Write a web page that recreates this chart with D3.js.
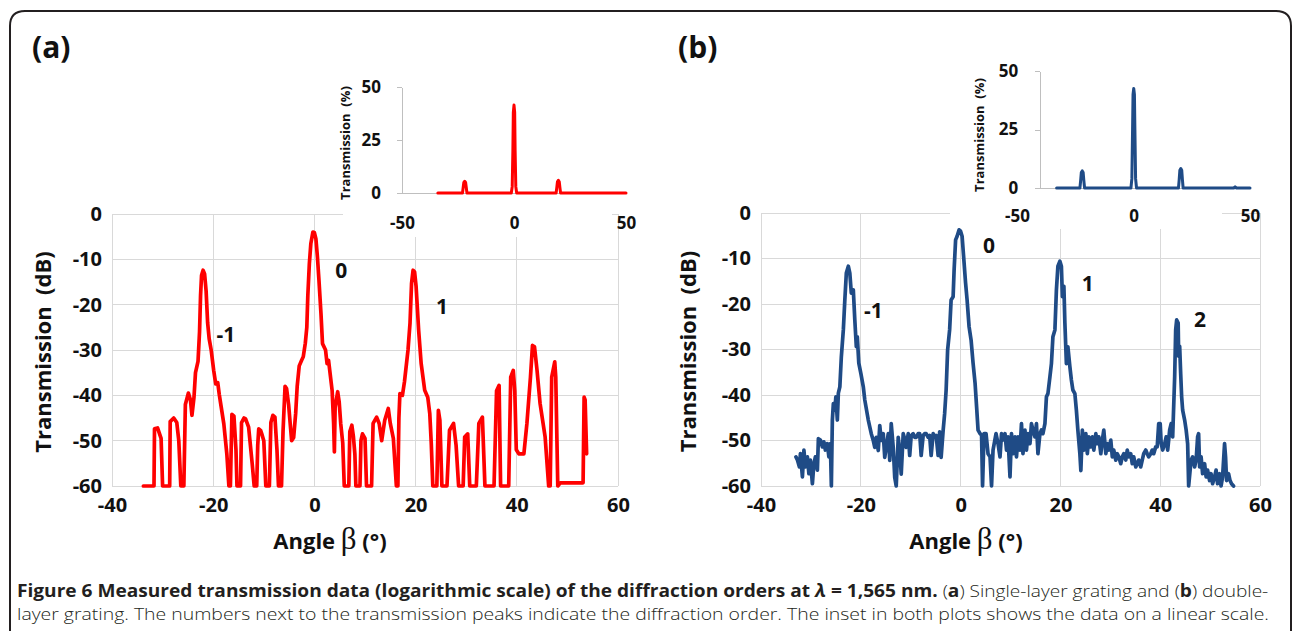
<!DOCTYPE html>
<html><head><meta charset="utf-8">
<script src="https://cdn.jsdelivr.net/npm/d3@7"></script>
<style>
html,body{margin:0;padding:0;background:#fff;}
svg{display:block;}
</style></head><body>
<svg id="fig" width="1292" height="631"></svg>
<script>
// ---------- data ----------
const angleTicks = [-40, -20, 0, 20, 40, 60];
const dbTicks = [0, -10, -20, -30, -40, -50, -60];
const insetAngleTicks = [-50, 0, 50];
const insetPctTicks = [0, 25, 50];

// (a) single-layer grating, transmission in dB vs angle
const singleLayerDb = [
[-33.8,-60],[-31.7,-60],[-31.6,-47.4],[-31.0,-47.2],[-30.6,-48.5],[-30.3,-49.5],[-30.0,-60],
[-28.6,-60],[-28.5,-45.8],[-27.8,-45],[-27.2,-46],[-26.8,-50],[-26.4,-60],
[-25.8,-60],[-25.5,-42],[-24.9,-39.5],[-24.5,-41],[-24.2,-44.4],[-23.8,-40.5],[-23.5,-35],[-23.0,-32.5],[-22.7,-26],[-22.5,-18],[-22.3,-13.5],[-22.0,-12.4],[-21.7,-13.2],[-21.4,-17],[-21.1,-24],[-20.8,-27.5],[-20.4,-30],[-19.9,-34.5],[-19.5,-37.5],[-19.1,-37.2],[-18.8,-39.8],[-18.5,-42],[-17.9,-46.3],[-17.3,-53],[-16.9,-60],
[-16.6,-60],[-16.3,-44.2],[-15.9,-44.6],[-15.5,-52],[-15.3,-60],
[-14.6,-60],[-14.4,-46],[-13.9,-45],[-13.6,-45.2],[-13.0,-47],[-12.3,-55],[-11.9,-60],
[-11.4,-60],[-11.2,-51],[-11.0,-47.4],[-10.6,-47.8],[-10.4,-48.5],[-10.0,-50],[-9.6,-60],
[-8.9,-60],[-8.6,-46],[-8.2,-44.4],[-7.8,-44.8],[-7.4,-52],[-7.1,-60],
[-6.5,-60],[-6.2,-48],[-5.8,-38],[-5.5,-38.5],[-5.1,-42],[-4.8,-46],[-4.5,-50],[-4.1,-49.3],[-3.7,-44],[-3.4,-38],[-3.0,-33.5],[-2.5,-32.2],[-2.2,-31.5],[-1.8,-28.5],[-1.5,-25],[-1.3,-18],[-1.0,-11],[-0.7,-6.5],[-0.3,-4],[0.0,-4.1],[0.3,-5.5],[0.6,-9.5],[0.9,-14.6],[1.3,-22],[1.6,-28.6],[2.2,-30],[2.5,-33],[2.8,-32.3],[3.5,-38.9],[3.8,-46.2],[3.95,-52.5],[4.1,-42.6],[4.6,-39.2],[4.9,-41.5],[5.2,-46.2],[5.6,-50.5],[5.9,-60],
[6.8,-60],[7.0,-48],[7.4,-46.6],[7.7,-49],[8.0,-53],[8.2,-60],
[9.0,-60],[9.2,-50],[9.5,-48.5],[10.0,-49.5],[10.3,-60],
[11.3,-60],[11.6,-46.2],[12.3,-44.8],[12.8,-46.2],[13.3,-50],[13.9,-45.5],[14.6,-42.9],[15.0,-46.2],[15.6,-49.5],[16.2,-60],
[16.5,-60],[16.7,-45],[16.9,-39.6],[17.4,-40],[17.8,-37],[18.5,-30],[18.9,-24],[19.2,-15.3],[19.5,-12.4],[19.8,-12.8],[20.1,-16],[20.6,-25.6],[21.1,-33],[21.8,-38.9],[22.4,-40.4],[22.8,-44],[23.1,-50.7],[23.4,-60],
[24.2,-60],[24.5,-43.3],[24.8,-45.5],[25.2,-60],
[26.2,-60],[26.7,-47.7],[27.5,-46.2],[28.0,-51],[28.5,-60],
[29.4,-60],[29.7,-49.2],[30.3,-48.5],[30.7,-60],
[32.0,-60],[32.5,-46.2],[33.2,-44.8],[33.7,-60],
[35.5,-60],[36.0,-39],[36.5,-37.8],[36.8,-60],
[38.4,-60],[38.8,-36],[39.3,-34.5],[39.6,-39],[39.9,-52],[40.4,-52.9],[41.4,-52.9],[42.0,-46.2],[42.7,-36],[43.1,-29],[43.5,-29.3],[44.0,-34.5],[44.6,-41.8],[45.6,-49.2],[46.3,-60],
[46.6,-60],[46.9,-36],[47.5,-32.6],[47.7,-36],[48.1,-60],
[48.6,-59.3],[53.1,-59.3],[53.3,-40.4],[53.5,-41],[53.8,-52.9]
];

// (b) double-layer grating, transmission in dB vs angle
const doubleLayerDb = [
[-33.0,-53.6],[-32.7,-54.3],[-32.3,-55.8],[-32.1,-52.9],[-31.7,-58.0],[-31.4,-52.1],[-31.1,-55.8],[-30.7,-53.6],[-30.4,-57.3],[-30.1,-54.3],[-29.7,-59.5],[-29.4,-55.1],[-29.1,-53.6],[-28.7,-56.5],[-28.5,-49.6],[-28.1,-49.9],[-27.7,-51.4],[-27.4,-50.3],[-27.1,-52.1],[-26.7,-50.7],[-26.4,-53.6],[-26.1,-50.7],[-25.9,-60],[-25.7,-45.5],[-25.5,-41.9],[-25.2,-43.3],[-25.0,-40.4],[-24.7,-45.5],[-24.5,-39.6],[-24.2,-38.2],[-23.9,-31.6],[-23.5,-25.7],[-23.2,-19.1],[-22.9,-13.2],[-22.5,-11.7],[-22.2,-13.2],[-21.9,-17.6],[-21.5,-16.9],[-21.2,-23.5],[-20.9,-29.4],[-20.7,-27.2],[-20.4,-33.0],[-20.0,-35.2],[-19.5,-38.2],[-19.2,-41.1],[-18.5,-45.5],[-17.9,-48.5],[-17.5,-50],[-17.2,-51.5],[-16.9,-49.3],[-16.5,-52.2],[-16.2,-46.7],[-15.9,-50],[-15.5,-48.5],[-15.2,-53.7],[-14.9,-51.5],[-14.5,-48.5],[-14.2,-54.4],[-13.9,-46.3],[-13.5,-51.5],[-13.2,-58.1],[-12.9,-60],[-12.5,-49.3],[-12.2,-52.2],[-11.9,-57.4],[-11.5,-48.5],[-11.2,-49.6],[-10.9,-51.5],[-10.5,-48.5],[-10.2,-53.3],[-9.9,-48.9],[-9.5,-48.5],[-9.2,-49.3],[-8.9,-49.3],[-8.5,-48.5],[-8.2,-48.5],[-7.9,-53.3],[-7.5,-48.9],[-7.2,-48.5],[-6.9,-48.5],[-6.5,-49.3],[-6.2,-48.9],[-5.9,-53.3],[-5.5,-48.5],[-5.2,-49.3],[-4.9,-48.9],[-4.5,-53.3],[-4.2,-48.1],[-3.9,-53.7],[-3.5,-47.8],[-3.2,-44.1],[-2.9,-38.9],[-2.6,-30.1],[-2.2,-25.7],[-1.9,-19.1],[-1.5,-18.4],[-1.3,-12.5],[-1.0,-5.9],[-0.7,-5.1],[-0.3,-3.7],[0.0,-4.0],[0.3,-5.1],[0.6,-9.5],[1.0,-15.4],[1.3,-19.1],[1.7,-25.0],[2.1,-27.9],[2.5,-33.0],[2.9,-37.4],[3.2,-42.5],[3.5,-47.7],[3.9,-48.5],[4.2,-48.8],[4.4,-60],[4.7,-48.5],[5.1,-48.5],[5.5,-52.9],[5.9,-53.6],[6.2,-60],[6.5,-52.1],[7.1,-48.5],[7.5,-50.7],[7.9,-53.6],[8.2,-48.5],[8.5,-49.9],[8.9,-48.5],[9.2,-52.1],[9.5,-49.2],[9.9,-58.0],[10.2,-48.5],[10.5,-52.9],[10.9,-49.2],[11.2,-53.6],[11.5,-49.2],[11.9,-52.1],[12.2,-46.3],[12.5,-52.9],[12.9,-47.7],[13.2,-52.1],[13.5,-48.5],[13.9,-50.7],[14.2,-46.3],[14.5,-47.7],[14.9,-49.2],[15.2,-46.3],[15.5,-52.9],[15.9,-48.5],[16.2,-47.7],[16.5,-48.5],[16.9,-46.3],[17.2,-40.4],[17.5,-39.7],[17.9,-36.0],[18.2,-33.1],[18.5,-27.2],[18.9,-25.7],[19.2,-16.9],[19.5,-11.7],[19.9,-10.6],[20.2,-11.7],[20.4,-18.4],[20.7,-16.1],[20.9,-24.2],[21.2,-33.1],[21.5,-29.4],[21.9,-33.8],[22.2,-36.7],[22.5,-38.9],[22.9,-39.7],[23.2,-43.3],[23.5,-47.7],[23.9,-52.9],[24.1,-56.6],[24.4,-47.7],[24.7,-52.1],[25.1,-48.5],[25.4,-52.9],[25.7,-49.2],[26.1,-51.4],[26.4,-49.2],[26.7,-52.1],[27.1,-48.5],[27.4,-50.7],[27.7,-49.2],[28.1,-52.9],[28.4,-49.9],[28.7,-47.7],[29.1,-52.9],[29.4,-50.7],[29.7,-52.1],[30.1,-49.9],[30.4,-53.6],[30.7,-52.1],[31.1,-54.3],[31.4,-52.9],[31.7,-53.6],[32.1,-55.1],[32.4,-53.6],[32.7,-52.9],[33.1,-54.3],[33.4,-52.1],[33.7,-53.6],[34.1,-52.9],[34.4,-55.1],[34.7,-53.6],[35.1,-55.8],[35.4,-55.1],[35.7,-54.3],[36.1,-55.8],[36.4,-54.3],[36.7,-52.9],[37.1,-52.1],[37.4,-52.9],[37.7,-53.6],[38.1,-52.9],[38.4,-52.1],[38.7,-52.9],[39.1,-51.4],[39.4,-51.4],[39.7,-46.3],[40.0,-46.3],[40.2,-50.7],[40.5,-52.1],[40.9,-50.7],[41.2,-49.2],[41.5,-52.1],[41.9,-47.7],[42.2,-46.3],[42.5,-49.2],[42.9,-36.0],[43.1,-25.7],[43.3,-23.5],[43.6,-24.2],[43.7,-31.5],[43.9,-29.3],[44.1,-35.2],[44.3,-40.4],[44.5,-43.3],[44.9,-45.5],[45.2,-47.7],[45.5,-50.7],[45.7,-60],[46.0,-56.5],[46.2,-54.3],[46.5,-53.6],[46.9,-55.8],[47.2,-54.3],[47.5,-49.2],[47.7,-48.5],[47.9,-55.8],[48.2,-53.6],[48.5,-57.3],[48.9,-55.1],[49.2,-58.0],[49.5,-56.5],[49.9,-58.8],[50.2,-57.3],[50.5,-59.5],[50.9,-58.0],[51.2,-56.5],[51.5,-59.5],[51.9,-57.3],[52.2,-60],[52.5,-58.0],[52.9,-50.7],[53.1,-53.6],[53.3,-58.8],[53.7,-57.3],[54.0,-58.8],[54.3,-59.5],[54.7,-60]
];

// insets: transmission in % vs angle
const singleLayerPct = [
[-34,0],[-23.0,0],[-22.7,2.5],[-22.4,5.0],[-22.0,5.5],[-21.6,5.0],[-21.3,2.5],[-21.0,0],
[-1.2,0],[-0.8,3],[-0.5,20],[-0.3,38],[0.0,41.5],[0.3,38],[0.5,20],[0.8,3],[1.2,0],
[18.8,0],[19.1,2.5],[19.4,5.3],[19.8,6.0],[20.2,5.3],[20.5,2.5],[20.8,0],[50,0]
];
const doubleLayerPct = [
[-33,0],[-23.0,0],[-22.7,3],[-22.4,6.6],[-22.0,7.3],[-21.6,6.6],[-21.3,3],[-21.0,0],
[-1.1,0],[-0.7,4],[-0.4,25],[-0.2,40],[0.1,42.5],[0.4,40],[0.6,25],[0.9,4],[1.3,0],
[19.3,0],[19.6,3.5],[19.9,7.6],[20.3,8.3],[20.7,7.6],[21.0,3.5],[21.3,0],
[43.0,0],[43.6,0.5],[44.2,0],[50,0]
];

// diffraction-order annotations [label, angle, dB]
const singleLayerOrders = [["-1",-17.5,-26.5],["0",5.3,-12.4],["1",25.2,-20.3]];
const doubleLayerOrders = [["-1",-17.5,-21.4],["0",5.7,-7.1],["1",25.5,-15.4],["2",48,-23.4]];

const xTitle = "Angle ";
const yTitle = "Transmission  (dB)";
const insetYTitle = "Transmission  (%)";

// ---------- drawing ----------
const FONT = "'Open Sans', 'Noto Sans', sans-serif";
const svg = d3.select("#fig");

svg.append("path")
  .attr("d", "M10,640V26Q10,11 25,11H1276Q1291,11 1291,26V640")
  .attr("fill", "none").attr("stroke", "#231f20").attr("stroke-width", 2);

const panels = [
  { tag: "(a)", tagX: 32, color: "#ff0000", db: singleLayerDb, pct: singleLayerPct, orders: singleLayerOrders,
    xRange: [112, 618], yRange: [214, 486], yTitleX: 43, xTitleX: 330,
    inset: { xRange: [402, 626], yRange: [193, 87], yAxisAt: -50, bg: [343, 62, 612, 237], titleX: 345, titleY: 143, xPad: 24, yPad: 21 } },
  { tag: "(b)", tagX: 678, color: "#1f4b86", db: doubleLayerDb, pct: doubleLayerPct, orders: doubleLayerOrders,
    xRange: [761, 1260], yRange: [213, 486], yTitleX: 688, xTitleX: 966,
    inset: { xRange: [1017, 1250], yRange: [188, 71], yAxisAt: -40, bg: [950, 50, 1222, 229], titleX: 979, titleY: 135, xPad: 22, yPad: 22 } }
];

function styleAxisText(sel, size) {
  sel.attr("font-family", FONT).attr("font-size", size).attr("font-weight", 700).attr("fill", "#111");
}

panels.forEach(p => {
  const g = svg.append("g");
  const x = d3.scaleLinear().domain([-40, 60]).range(p.xRange);
  const y = d3.scaleLinear().domain([0, -60]).range(p.yRange);

  // gridlines
  g.append("g").selectAll("line").data(dbTicks).join("line")
    .attr("x1", x(-40)).attr("x2", x(60)).attr("y1", d => y(d)).attr("y2", d => y(d))
    .attr("stroke", "#d9d9d9").attr("stroke-width", 1).attr("shape-rendering", "crispEdges");
  g.append("g").selectAll("line").data(angleTicks).join("line")
    .attr("x1", d => x(d)).attr("x2", d => x(d)).attr("y1", y(0)).attr("y2", y(-60))
    .attr("stroke", "#d9d9d9").attr("stroke-width", 1).attr("shape-rendering", "crispEdges");

  // axes
  const ya = g.append("g").attr("transform", `translate(${x(-40)},0)`)
    .call(d3.axisLeft(y).tickValues(dbTicks).tickSize(0).tickPadding(10).tickFormat(d => d));
  ya.select(".domain").remove();
  styleAxisText(ya.selectAll("text"), 20);
  const xa = g.append("g").attr("transform", `translate(0,${y(-60)})`)
    .call(d3.axisBottom(x).tickValues(angleTicks).tickSize(0).tickPadding(12).tickFormat(d => d));
  xa.select(".domain").remove();
  styleAxisText(xa.selectAll("text"), 20);

  // titles
  g.append("text").attr("transform", `translate(${p.yTitleX},${(p.yRange[0] + p.yRange[1]) / 2 + 2}) rotate(-90)`)
    .attr("text-anchor", "middle").attr("dy", "0.36em").style("white-space", "pre")
    .attr("font-family", FONT).attr("font-size", 22).attr("font-weight", 700).attr("fill", "#111")
    .text(yTitle);
  const xt = g.append("text").attr("x", p.xTitleX).attr("y", 549).attr("text-anchor", "middle")
    .attr("font-family", FONT).attr("font-size", 22).attr("font-weight", 700).attr("fill", "#111");
  xt.append("tspan").text(xTitle);
  xt.append("tspan").attr("font-family", "'Liberation Serif', 'DejaVu Serif', serif").attr("font-weight", 400)
    .attr("font-size", 31).text("β");
  xt.append("tspan").text(" (°)");

  g.append("text").attr("x", p.tagX).attr("y", 58).attr("font-family", FONT).attr("font-size", 30)
    .attr("font-weight", 700).attr("fill", "#111").text(p.tag);

  // inset background
  const c = p.inset;
  const ix = d3.scaleLinear().domain([-50, 50]).range(c.xRange);
  const iy = d3.scaleLinear().domain([0, 50]).range(c.yRange);
  const ig = g.append("g");
  ig.append("rect").attr("x", c.bg[0]).attr("y", c.bg[1]).attr("width", c.bg[2] - c.bg[0]).attr("height", c.bg[3] - c.bg[1]).attr("fill", "#fff");

  // main curve
  const line = d3.line().x(d => x(d[0])).y(d => y(d[1]));
  g.append("path").datum(p.db).attr("d", line).attr("fill", "none").attr("stroke", p.color)
    .attr("stroke-width", 3.7).attr("stroke-linejoin", "round").attr("stroke-linecap", "round");

  // inset axes and curve
  const iax = ig.append("g").attr("transform", `translate(0,${iy(0)})`)
    .call(d3.axisBottom(ix).tickValues(insetAngleTicks).tickSize(0).tickPadding(c.xPad).tickFormat(d => d));
  iax.select(".domain").remove();
  styleAxisText(iax.selectAll("text"), 17);
  ig.append("line").attr("x1", ix(c.yAxisAt) - 5).attr("x2", ix(50)).attr("y1", iy(0)).attr("y2", iy(0))
    .attr("stroke", "#bfbfbf").attr("shape-rendering", "crispEdges");
  const iay = ig.append("g").attr("transform", `translate(${ix(c.yAxisAt)},0)`)
    .call(d3.axisLeft(iy).tickValues(insetPctTicks).tickSize(5).tickSizeOuter(0).tickPadding(c.yPad - 5).tickFormat(d => d));
  iay.selectAll("line,.domain").attr("stroke", "#bfbfbf").attr("shape-rendering", "crispEdges");
  styleAxisText(iay.selectAll("text"), 17);
  ig.append("text").attr("transform", `translate(${c.titleX},${c.titleY}) rotate(-90)`)
    .attr("text-anchor", "middle").attr("dy", "0.36em").style("white-space", "pre")
    .attr("font-family", FONT).attr("font-size", 13).attr("font-weight", 700).attr("fill", "#111")
    .text(insetYTitle);
  const iline = d3.line().x(d => ix(d[0])).y(d => iy(d[1]));
  ig.append("path").datum(p.pct).attr("d", iline).attr("fill", "none").attr("stroke", p.color)
    .attr("stroke-width", 3).attr("stroke-linejoin", "round").attr("stroke-linecap", "round");

  // order labels
  g.append("g").selectAll("text").data(p.orders).join("text")
    .attr("x", d => x(d[1])).attr("y", d => y(d[2])).attr("dy", "0.36em").attr("text-anchor", "middle")
    .attr("font-family", FONT).attr("font-size", 21).attr("font-weight", 700).attr("fill", "#111")
    .text(d => d[0]);
});

// caption
const capX = 17, capW = 1252;
function capLine(yPos, parts) {
  const t = svg.append("text").attr("x", 0).attr("y", 0).attr("font-family", FONT).attr("font-size", 17)
    .attr("fill", "#231f20").style("white-space", "pre");
  parts.forEach(([s, w, it]) => {
    const ts = t.append("tspan").text(s).attr("font-weight", w ? 700 : 300);
    if (it) ts.attr("font-style", "italic");
  });
  const len = t.node().getComputedTextLength();
  t.attr("transform", `translate(${capX},${yPos}) scale(${capW / len},1)`);
}
capLine(597, [
  ["Figure 6 Measured transmission data (logarithmic scale) of the diffraction orders at ", 1],
  ["λ", 1, 1], [" = 1,565 nm.", 1], [" (", 0], ["a", 1], [") Single-layer grating and (", 0], ["b", 1], [") double-", 0]
]);
capLine(620, [
  ["layer grating. The numbers next to the transmission peaks indicate the diffraction order. The inset in both plots shows the data on a linear scale.", 0]
]);
</script>
</body></html>
